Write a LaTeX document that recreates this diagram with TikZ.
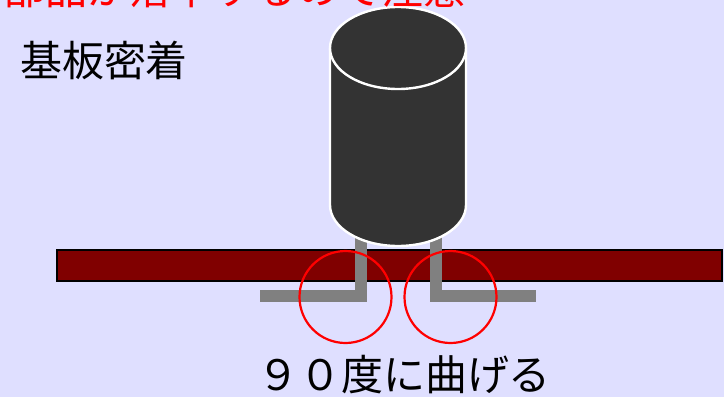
\documentclass[tikz,border=0pt]{standalone}
\usepackage{fontspec}
\newfontfamily\jp{Noto Sans CJK JP}
\definecolor{bgcol}{RGB}{223,223,255}
\definecolor{boardred}{RGB}{128,0,0}
\definecolor{capgray}{RGB}{51,51,51}
\definecolor{leadgray}{RGB}{128,128,128}
\begin{document}
\begin{tikzpicture}[x=1pt,y=-1pt,
  lbl/.style={font=\jp\fontsize{42}{46}\selectfont, inner sep=0pt},
  bendmark/.style={circle, draw=red, line width=2.2pt, minimum size=92pt, inner sep=0pt},
  leadwire/.style={draw=leadgray, line width=12pt, line join=miter},
  capbody/.style={fill=capgray},
  capedge/.style={draw=white, line width=2.4pt}]
% canvas
\fill[bgcol] (0,0) rectangle (724,397);
\useasboundingbox (0,0) rectangle (724,397);
% printed circuit board
\draw[fill=boardred, draw=black, line width=2pt] (57,249.5) rectangle (722,280.5);
% bent leads
\coordinate (ltop) at (360.5,232);
\coordinate (lbend) at (360.5,296);
\coordinate (lend) at (260,296);
\coordinate (rtop) at (435.5,232);
\coordinate (rbend) at (435.5,296);
\coordinate (rend) at (536,296);
\draw[leadwire] (ltop) -- (lbend) -- (lend);
\draw[leadwire] (rtop) -- (rbend) -- (rend);
% capacitor body
\fill[capbody] (398,205) ellipse[x radius=68, y radius=41];
\fill[capbody] (330,48) rectangle (466,205);
\draw[capedge] (330,48) -- (330,205) arc[start angle=180, end angle=0, x radius=68, y radius=41] -- (466,48);
\draw[capedge, capbody] (398,48) ellipse[x radius=68, y radius=41];
% highlight circles at the bends
\node[bendmark] (bendL) at (345.5,297) {};
\node[bendmark] (bendR) at (450.5,297) {};
% labels
\node[lbl, text=red, anchor=base east] (warn) at (466,4) {部品が落下するので注意};
\node[lbl, anchor=center] (stick) at (104,60) {基板密着};
\node[lbl, anchor=center] (bend) at (404,375) {９０度に曲げる};
\end{tikzpicture}
\end{document}
